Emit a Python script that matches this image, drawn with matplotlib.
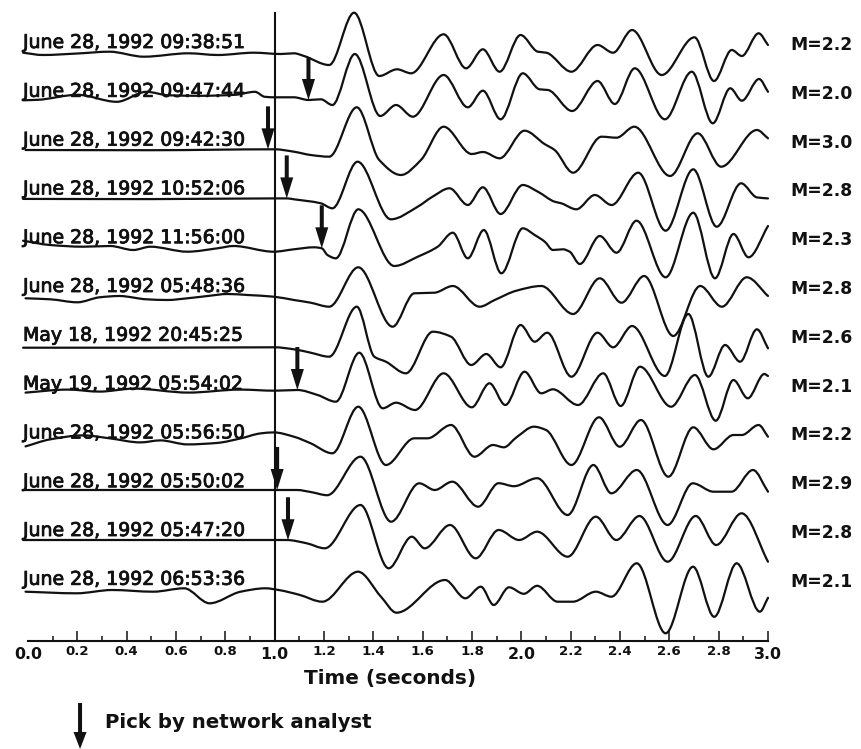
import numpy as np
import matplotlib
matplotlib.use("Agg")
import matplotlib.pyplot as plt
import matplotlib.patheffects as pe
from matplotlib.path import Path
from matplotlib.patches import PathPatch

plt.rcParams["font.family"] = ["DejaVu Sans"]

# ---- event annotations -------------------------------------------------
event_labels = [
    "June 28, 1992 09:38:51", "June 28, 1992 09:47:44", "June 28, 1992 09:42:30",
    "June 28, 1992 10:52:06", "June 28, 1992 11:56:00", "June 28, 1992 05:48:36",
    "May 18, 1992 20:45:25", "May 19, 1992 05:54:02", "June 28, 1992 05:56:50",
    "June 28, 1992 05:50:02", "June 28, 1992 05:47:20", "June 28, 1992 06:53:36",
]
magnitudes = ["M=2.2", "M=2.0", "M=3.0", "M=2.8", "M=2.3", "M=2.8",
              "M=2.6", "M=2.1", "M=2.2", "M=2.9", "M=2.8", "M=2.1"]
# analyst P picks (s); NaN where no pick was made
pick_times = [np.nan, 1.137, 0.973, 1.049, 1.191, np.nan,
              np.nan, 1.092, np.nan, 1.010, 1.054, np.nan]

# ---- waveforms: sample times (s) and amplitudes (arbitrary units) --------
t_0938 = [-0.02, 0.06, 0.20, 0.33, 0.47, 0.65, 0.77, 0.915, 1.025, 1.078, 1.119, 1.221,
          1.322, 1.424, 1.496, 1.553, 1.685, 1.776, 1.844, 1.912, 1.997, 2.067, 2.101,
          2.203, 2.309, 2.372, 2.449, 2.569, 2.702, 2.781, 2.853, 2.894, 2.962, 3.0]
a_0938 = [0.3, -2, -0.5, 1.3, -3.7, -0.3, -2, 0.3, -1, -0.3, -3, -12,
          40.3, -23, -16.3, -20.3, 18.7, -15.3, 3.7, -18.7, 18, 1.3, 0.3,
          -18.7, 8, 0.3, 23, -22, 15.7, -28, 3, -3, 19.7, 8]

t_0947 = [-0.02, 0.04, 0.20, 0.36, 0.48, 0.57, 0.70, 0.84, 0.92, 0.96, 1.0, 1.078,
          1.137, 1.187, 1.234, 1.325, 1.428, 1.492, 1.560, 1.685, 1.783, 1.844, 1.916,
          2.006, 2.074, 2.108, 2.206, 2.309, 2.379, 2.460, 2.582, 2.691, 2.776, 2.847,
          2.894, 2.964, 3.0]
a_0947 = [1.5, 2, 7, 0, 10, 6.5, 6, 7, 10, 5, 4.5, 4.5,
          1.8, 2.5, -3.2, 47.8, -14.2, -3.2, -14.9, 26.8, -5.5, 11.1, -17.5,
          28.5, 12.5, 11.8, -9.2, 20.8, -2.2, 33.5, -17.5, 30.1, -21.5, 13.5,
          1.1, 22.8, 10]

t_0942 = [-0.01, 0.5, 1.0, 1.078, 1.146, 1.221, 1.333, 1.424, 1.512, 1.593, 1.685,
          1.799, 1.845, 1.912, 2.013, 2.094, 2.135, 2.210, 2.325, 2.386, 2.458, 2.603,
          2.715, 2.810, 2.955, 3.0]
a_0942 = [0.6, 0.4, 1.3, -1.1, -4.4, -6.1, 43.3, -9.4, -24.4, -9.4, 23.9,
          -3.4, -1.4, -7.7, 19.9, 6.6, 0.6, -22.1, 13.9, 12.9, 23.9, -25.4,
          17.3, -16.1, 20.6, 12.3]

t_1052 = [-0.02, 0.5, 1.0, 1.05, 1.078, 1.187, 1.234, 1.336, 1.471, 1.580, 1.64, 1.709,
          1.783, 1.844, 1.916, 2.006, 2.067, 2.135, 2.162, 2.223, 2.298, 2.366, 2.474,
          2.585, 2.697, 2.792, 2.891, 2.955, 3.0]
a_1052 = [0.5, 0.3, 1.0, 1.0, 0.1, -3.9, -8.9, 37.7, -19.9, -7.3, 2.7, 11.1,
          -5.6, 12.1, -14.6, 14.4, 7.7, -2.3, -3.9, -9.9, 4.4, -5.6, 26.7,
          -31.3, 30.1, -27.3, 16.1, 2.0, 1.0]

t_1156 = [-0.02, 0.089, 0.224, 0.333, 0.427, 0.496, 0.646, 0.768, 0.833, 0.996, 1.078,
          1.16, 1.191, 1.214, 1.248, 1.339, 1.485, 1.580, 1.661, 1.722, 1.783, 1.848,
          1.919, 2.006, 2.054, 2.095, 2.128, 2.169, 2.196, 2.237, 2.318, 2.386, 2.467,
          2.585, 2.697, 2.785, 2.860, 2.921, 3.0]
a_1156 = [7.5, 3.2, 1.5, 2.2, -1.8, 1.5, -3.5, -0.1, 2.2, -3.5, -1.1,
          0.9, -0.1, -6.8, -10.1, 38.9, -17.8, -8.5, 1.5, 15.5, -10.1, 18.2,
          -25.1, 19.9, 13.2, 6.5, -1.8, -1.1, -3.5, -15.8, 12.2, -4.5, 27.5,
          -29.1, 35.5, -30.1, 14.2, -9.1, 22.2]

t_0548 = [-0.01, 0.09, 0.2, 0.29, 0.37, 0.48, 0.565, 0.646, 0.728, 0.809, 0.89, 0.996,
          1.078, 1.146, 1.221, 1.339, 1.478, 1.566, 1.648, 1.722, 1.831, 1.892, 1.98,
          2.081, 2.210, 2.318, 2.406, 2.498, 2.616, 2.725, 2.813, 2.914, 3.0]
a_0548 = [-1.3, -2.3, -5.3, -0.3, 1, -2.3, -3, -1.3, 1, 3, 2, 0.3,
          -3, -5.7, -9.7, 29.7, -29.7, 3.7, 4.3, 11, -9.7, -3, 6.3,
          11, -17, 18.7, -5.7, 21, -39, 11, -9.7, 19.7, 1]

t_2045 = [-0.02, 0.5, 1.0, 1.078, 1.146, 1.221, 1.333, 1.404, 1.451, 1.532, 1.641,
          1.715, 1.797, 1.858, 1.916, 1.997, 2.054, 2.105, 2.203, 2.309, 2.372, 2.449,
          2.582, 2.677, 2.758, 2.826, 2.887, 2.955, 3.0]
a_2045 = [-1.9, -1.9, -1.5, -3.5, -6.9, -10.9, 39.1, -10.9, -15.9, -27.5, 14.1,
          9.1, -19.2, -8.2, -21.5, 20.8, 4.1, 13.1, -30.9, 13.1, -1.5, 19.8,
          -30.2, 31.8, -30.9, 0.8, -15.9, 16.5, -2.5]

t_0554 = [-0.01, 0.16, 0.29, 0.43, 0.65, 0.86, 1.0, 1.092, 1.174, 1.248, 1.343, 1.438,
          1.492, 1.569, 1.685, 1.799, 1.871, 1.935, 2.013, 2.081, 2.128, 2.230, 2.332,
          2.403, 2.481, 2.607, 2.704, 2.788, 2.860, 2.918, 2.985, 3.0]
a_0554 = [2, 5, 3, 6, 2, 5, 3.9, 4.6, -0.4, -7.1, 41.9, -13.7,
          -8.1, -15.4, 21.3, -12.7, 11.3, -10.4, 22.9, 1.3, 5.3, -10.4, 21.3,
          -11.4, 27.9, -12.1, 19.6, -26.1, 14.6, -3.7, 20.6, 18.6]

t_0556 = [-0.01, 0.089, 0.224, 0.333, 0.455, 0.537, 0.646, 0.768, 0.862, 0.943, 0.996,
          1.078, 1.146, 1.234, 1.339, 1.451, 1.566, 1.620, 1.715, 1.810, 1.885, 1.929,
          1.98, 2.051, 2.10, 2.203, 2.315, 2.399, 2.485, 2.596, 2.697, 2.779, 2.860,
          2.894, 2.962, 3.0]
a_0556 = [-3, 4, 8, 5, 1, 3, -1, 0.5, 5, 10, 11,
          6.7, 0.1, -9.9, 36.7, -21.6, 5.1, 5.1, 18.4, -13.3, -1.6, -3.9,
          6, 16.7, 13.4, -21.6, 26.1, -3.3, 23.4, -33.3, 16.1, -5.9, 8.4,
          8.4, 18.4, 6.7]

t_0550 = [-0.02, 0.5, 1.0, 1.09, 1.15, 1.213, 1.348, 1.472, 1.586, 1.649, 1.72, 1.825,
          1.908, 1.97, 2.064, 2.188, 2.292, 2.365, 2.468, 2.593, 2.695, 2.779, 2.852,
          2.939, 3.0]
a_0550 = [2.2, 2.2, 2.2, 2.2, 0, -3, 35.5, -29.5, 8.9, 2.2, 10.5, -14.5,
          9, 6, 14, -22.8, 27.2, -1.1, 22.2, -32.8, 8.9, 0.5, 0.5,
          22.2, 0.5]

t_0547 = [-0.02, 0.5, 1.0, 1.048, 1.13, 1.203, 1.348, 1.462, 1.556, 1.608, 1.711, 1.815,
          1.908, 1.991, 2.064, 2.188, 2.302, 2.385, 2.479, 2.593, 2.707, 2.79, 2.893, 3.0]
a_0547 = [1, 1, 1, 1, -2.3, -7.3, 36, -27.3, 4.3, -7.3, 16, -17.3,
          11, 1, 9.3, -15.7, 24.3, 1, 25, -20.7, 25, -4, 27.7, -20.7]

t_0653 = [-0.01, 0.197, 0.341, 0.508, 0.633, 0.736, 0.862, 0.963, 1.016, 1.10, 1.193,
          1.338, 1.431, 1.494, 1.691, 1.773, 1.836, 1.888, 1.95, 2.01, 2.064, 2.147,
          2.209, 2.302, 2.365, 2.468, 2.585, 2.696, 2.782, 2.873, 2.967, 3.0]
a_0653 = [-1.9, -3.5, -0.2, -1.9, 1.5, -13.5, -1.9, 1.5, -0.2, -5, -11.9,
          18.1, -6.9, -22.9, 9.8, -8.5, 3.1, -15.2, 2.5, -4, 4, -11.9,
          -11.9, -1.9, -6.9, 26.5, -43.5, 23.1, -27, 26.5, -21.9, -8]

traces = [(t_0938, a_0938), (t_0947, a_0947), (t_0942, a_0942), (t_1052, a_1052),
          (t_1156, a_1156), (t_0548, a_0548), (t_2045, a_2045), (t_0554, a_0554),
          (t_0556, a_0556), (t_0550, a_0550), (t_0547, a_0547), (t_0653, a_0653)]

tick_values = [0.0, 0.2, 0.4, 0.6, 0.8, 1.0, 1.2, 1.4, 1.6, 1.8,
               2.0, 2.2, 2.4, 2.6, 2.8, 3.0]
tick_labels = ["0.0", "0.2", "0.4", "0.6", "0.8", "1.0", "1.2", "1.4", "1.6", "1.8",
               "2.0", "2.2", "2.4", "2.6", "2.8", "3.0"]

# ---- layout ----------------------------------------------------------------
W, H = 862, 749
top_base = 588.0     # vertical offset of the first trace
trace_gap = 48.8     # spacing between traces
px_per_s = 246.0


def smooth_path(t, a, offset):
    """Monotone cubic Hermite curve through the samples, as Bezier segments."""
    t = np.asarray(t, float)
    y = np.asarray(a, float) + offset
    h = np.diff(t)
    d = np.diff(y) / h
    m = np.zeros_like(y)
    m[0], m[-1] = d[0], d[-1]
    for k in range(1, len(y) - 1):
        if d[k - 1] * d[k] > 0:
            w1 = 2 * h[k] + h[k - 1]
            w2 = h[k] + 2 * h[k - 1]
            m[k] = (w1 + w2) / (w1 / d[k - 1] + w2 / d[k])
    verts = [(t[0], y[0])]
    codes = [Path.MOVETO]
    for k in range(len(h)):
        verts += [(t[k] + h[k] / 3, y[k] + m[k] * h[k] / 3),
                  (t[k + 1] - h[k] / 3, y[k + 1] - m[k + 1] * h[k] / 3),
                  (t[k + 1], y[k + 1])]
        codes += [Path.CURVE4] * 3
    return Path(verts, codes)


fig = plt.figure(figsize=(W / 100, H / 100), dpi=100)
ax = fig.add_axes([28 / W, (H - 641) / H, 740 / W, 636 / H])
ax.set_xlim(0, 3)
ax.set_ylim(0, 636)

ink = "#111111"
heavy = [pe.withStroke(linewidth=0.6, foreground=ink)]
for k, (t, a) in enumerate(traces):
    base = top_base - k * trace_gap
    ax.add_patch(PathPatch(smooth_path(t, a, base), facecolor="none", edgecolor=ink,
                           lw=1.6, clip_on=False, joinstyle="round", capstyle="round"))
    ax.text(-0.0203, base + 5, event_labels[k], ha="left", va="baseline",
            fontsize=13.6, color=ink, path_effects=heavy)
    ax.text(3.089, base + 8, magnitudes[k], ha="left", va="center",
            fontsize=12.4, fontweight="bold", color=ink)
    tp = pick_times[k]
    if not np.isnan(tp):
        tip = base + np.interp(tp, t, a)
        ax.arrow(tp, tip + 43, 0, -43, width=4 / px_per_s, head_width=13 / px_per_s,
                 head_length=21, length_includes_head=True, color=ink, lw=0,
                 clip_on=False)

# reference line at 1 s
ax.plot([1.0, 1.0], [0, 628], color=ink, lw=1.5, clip_on=False)

# time axis
for side in ("left", "right", "top"):
    ax.spines[side].set_visible(False)
ax.spines["bottom"].set_linewidth(1.5)
ax.spines["bottom"].set_color(ink)
ax.set_yticks([])
ax.set_xticks([v for v in tick_values if v > 0])
ax.set_xticks(np.arange(1, 30, 2) / 10, minor=True)
ax.tick_params(axis="x", which="major", direction="in", length=7.2, width=1.1,
               color=ink, labelbottom=False)
ax.tick_params(axis="x", which="minor", direction="in", length=3.6, width=1.1,
               color=ink)
for v, lab in zip(tick_values, tick_labels):
    big = lab.endswith(".0")
    ax.text(v, -6 if big else -4, lab, ha="center", va="top",
            fontsize=11.4 if big else 9.6, fontweight="bold", color=ink)

ax.text(1.467, -43, "Time (seconds)", ha="center", va="baseline",
        fontsize=14.4, fontweight="bold", color=ink)

# legend for the pick arrows
ax.arrow(0.211, -62, 0, -46, width=4 / px_per_s, head_width=13 / px_per_s,
         head_length=17, length_includes_head=True, color=ink, lw=0, clip_on=False)
ax.text(0.313, -87, "Pick by network analyst", ha="left", va="baseline",
        fontsize=14.2, fontweight="bold", color=ink)

fig.savefig("out.png", dpi=100, facecolor="white")
